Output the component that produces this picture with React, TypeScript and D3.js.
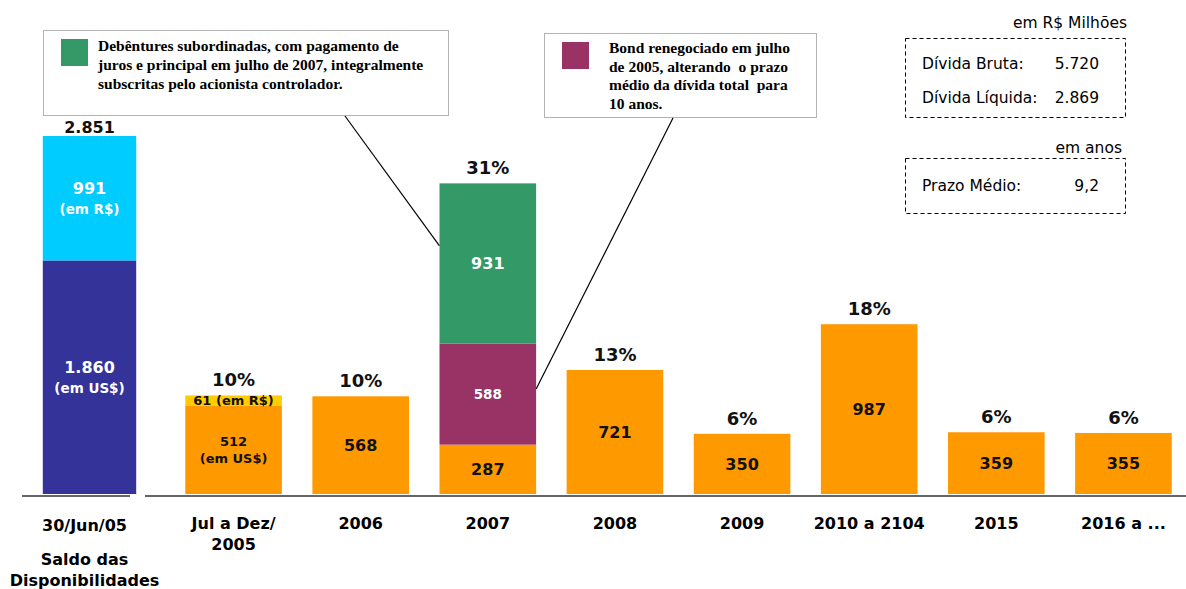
import * as d3 from 'd3'

// periodos de vencimento da divida (R$ milhoes)
const periods = ['Jul a Dez/2005', '2006', '2007', '2008', '2009', '2010 a 2104', '2015', '2016 a ...']
const periodLabels = [['Jul a Dez/', '2005'], ['2006'], ['2007'], ['2008'], ['2009'], ['2010 a 2104'], ['2015'], ['2016 a ...']]
const usdDebt = [512, 568, 287, 721, 350, 987, 359, 355]
const brlDebt = [61, 0, 0, 0, 0, 0, 0, 0]
const bondDebt = [0, 0, 588, 0, 0, 0, 0, 0]
const debentureDebt = [0, 0, 931, 0, 0, 0, 0, 0]
const shareOfDebt = ['10%', '10%', '31%', '13%', '6%', '18%', '6%', '6%']

// saldo das disponibilidades em 30/jun/05
const cashKeys = ['usd', 'brl']
const cashValues = [1860, 991]
const cashLabels = ['30/Jun/05', 'Saldo das', 'Disponibilidades']

const summaryRows = [['Dívida Bruta:', '5.720'], ['Dívida Líquida:', '2.869']]
const termRow = ['Prazo Médio:', '9,2']

const debentureNote = ['Debêntures subordinadas, com pagamento de', 'juros e principal em julho de 2007, integralmente', 'subscritas pelo acionista controlador.']
const bondNote = ['Bond renegociado em julho', 'de 2005, alterando  o prazo', 'médio da dívida total  para', '10 anos.']

const W = 1186
const H = 589
const baseY = 494
const SANS = "'DejaVu Sans', Verdana, sans-serif"
const SERIF = "'Liberation Serif', 'Times New Roman', serif"

const colors: Record<string, string> = {
  usd: '#FF9900',
  brl: '#FFCC00',
  bond: '#993366',
  deb: '#339966',
}
const cashColors: Record<string, string> = { usd: '#333399', brl: '#00CCFF' }

const fmt = d3.formatLocale({ decimal: ',', thousands: '.', grouping: [3], currency: ['R$', ''] }).format(',d')

type Row = { period: string; usd: number; brl: number; bond: number; deb: number }

const App = () => {
  const rows: Row[] = periods.map((p, i) => ({
    period: p,
    usd: usdDebt[i],
    brl: brlDebt[i],
    bond: bondDebt[i],
    deb: debentureDebt[i],
  }))
  const keys = ['usd', 'brl', 'bond', 'deb']
  const series = d3.stack<Row>().keys(keys)(rows)

  const x = d3.scaleBand().domain(periods).range([170, 1187]).paddingInner(0.24).paddingOuter(0.12)
  const xCash = d3.scaleBand().domain(['cash']).range([40, 139]).paddingInner(0).paddingOuter(0.03)
  const yDebt = d3.scaleLinear().domain([0, 2000]).range([baseY, 150])
  const yCash = d3.scaleLinear().domain([0, d3.sum(cashValues)]).range([baseY, 136])

  const cashStack = d3.cumsum(cashValues)
  const cashX = xCash('cash')!
  const cashMid = cashX + xCash.bandwidth() / 2

  const totals = rows.map((r) => r.usd + r.brl + r.bond + r.deb)

  // where the callout leaders meet the 2007 bar
  const x07 = x('2007')!
  const debY = yDebt(usdDebt[2] + bondDebt[2] + debentureDebt[2] * 0.61)
  const bondY = yDebt(usdDebt[2] + bondDebt[2] * 0.55)

  const segLabel = (key: string, i: number, v: number) => {
    if (key === 'usd' && brlDebt[i] > 0) return { lines: [fmt(v), '(em US$)'], size: 13, fill: '#111' }
    if (key === 'brl') return { lines: [`${fmt(v)} (em R$)`], size: 13, fill: '#111' }
    if (key === 'bond') return { lines: [fmt(v)], size: 13.5, fill: '#fff' }
    if (key === 'deb') return { lines: [fmt(v)], size: 16, fill: '#fff' }
    return { lines: [fmt(v)], size: 16, fill: '#111' }
  }

  return (
    <>
      <style>{`body{margin:0}`}</style>
      <svg width={W} height={H} style={{ display: 'block', background: '#fff' }}>
        {/* callout: debentures */}
        <rect x={43.5} y={30.5} width={405} height={85} fill="#fff" stroke="#666" strokeDasharray="1 1" />
        <rect x={61} y={39} width={27} height={27} fill={colors.deb} />
        {debentureNote.map((t, k) => (
          <text key={k} x={98} y={51 + k * 19} fontFamily={SERIF} fontWeight="bold" fontSize={15.5} fill="#000" style={{ whiteSpace: 'pre' }}>
            {t}
          </text>
        ))}
        <line x1={345} y1={116} x2={x07} y2={debY} stroke="#000" strokeWidth={1.2} />

        {/* callout: bond */}
        <rect x={544.5} y={33.5} width={272} height={84} fill="#fff" stroke="#666" strokeDasharray="1 1" />
        <rect x={562} y={42} width={27} height={27} fill={colors.bond} />
        {bondNote.map((t, k) => (
          <text key={k} x={609} y={53 + k * 18.5} fontFamily={SERIF} fontWeight="bold" fontSize={15.5} fill="#000" style={{ whiteSpace: 'pre' }}>
            {t}
          </text>
        ))}
        <line x1={673} y1={118} x2={x07 + x.bandwidth()} y2={bondY} stroke="#000" strokeWidth={1.2} />

        {/* resumo */}
        <text x={1127} y={28} textAnchor="end" fontFamily={SANS} fontSize={15.5} fill="#000">
          em R$ Milhões
        </text>
        <rect x={905.5} y={38.5} width={220} height={79} fill="none" stroke="#000" strokeDasharray="4 3" />
        {summaryRows.map((r, k) => (
          <g key={k} fontFamily={SANS} fontSize={15.5} fill="#000">
            <text x={922} y={69 + k * 34}>{r[0]}</text>
            <text x={1099} y={69 + k * 34} textAnchor="end">{r[1]}</text>
          </g>
        ))}
        <text x={1122} y={153} textAnchor="end" fontFamily={SANS} fontSize={15.5} fill="#000">
          em anos
        </text>
        <rect x={905.5} y={158.5} width={220} height={55} fill="none" stroke="#000" strokeDasharray="4 3" />
        <g fontFamily={SANS} fontSize={15.5} fill="#000">
          <text x={922} y={191}>{termRow[0]}</text>
          <text x={1099} y={191} textAnchor="end">{termRow[1]}</text>
        </g>

        {/* saldo de caixa */}
        {cashValues.map((v, k) => {
          const y0 = yCash(cashStack[k] - v)
          const y1 = yCash(cashStack[k])
          const mid = (y0 + y1) / 2
          return (
            <g key={cashKeys[k]}>
              <rect x={cashX} y={y1} width={xCash.bandwidth()} height={y0 - y1} fill={cashColors[cashKeys[k]]} />
              <text x={cashMid} y={mid - 4} textAnchor="middle" fontFamily={SANS} fontWeight="bold" fontSize={16} fill="#fff">
                {fmt(v)}
              </text>
              <text x={cashMid} y={mid + 16} textAnchor="middle" fontFamily={SANS} fontWeight="bold" fontSize={13.5} fill="#fff">
                {cashKeys[k] === 'usd' ? '(em US$)' : '(em R$)'}
              </text>
            </g>
          )
        })}
        <text x={cashMid} y={yCash(d3.sum(cashValues)) - 3} textAnchor="middle" fontFamily={SANS} fontWeight="bold" fontSize={16} fill="#111">
          {fmt(d3.sum(cashValues))}
        </text>
        {cashLabels.map((t, k) => (
          <text key={t} x={cashMid - 5} y={531 + (k === 0 ? 0 : 13 + k * 21)} textAnchor="middle" fontFamily={SANS} fontWeight="bold" fontSize={16} fill="#000">
            {t}
          </text>
        ))}

        {/* vencimentos */}
        {series.map((s) =>
          s.map((d, i) => {
            const v = d[1] - d[0]
            if (v <= 0) return null
            return (
              <rect
                key={s.key + i}
                x={x(periods[i])!}
                y={yDebt(d[1])}
                width={x.bandwidth()}
                height={yDebt(d[0]) - yDebt(d[1])}
                fill={colors[s.key]}
              />
            )
          })
        )}
        {series.map((s) =>
          s.map((d, i) => {
            const v = d[1] - d[0]
            if (v <= 0) return null
            const lab = segLabel(s.key, i, v)
            const mid = (yDebt(d[0]) + yDebt(d[1])) / 2
            const cx = x(periods[i])! + x.bandwidth() / 2
            const lh = lab.size * 1.3
            const top = mid - ((lab.lines.length - 1) * lh) / 2 + lab.size * 0.36
            return lab.lines.map((t, k) => (
              <text
                key={s.key + i + k}
                x={cx}
                y={top + k * lh}
                textAnchor="middle"
                fontFamily={SANS}
                fontWeight="bold"
                fontSize={lab.size}
                fill={lab.fill}
              >
                {t}
              </text>
            ))
          })
        )}
        {shareOfDebt.map((t, i) => (
          <text
            key={'p' + i}
            x={x(periods[i])! + x.bandwidth() / 2}
            y={yDebt(totals[i]) - 9}
            textAnchor="middle"
            fontFamily={SANS}
            fontWeight="bold"
            fontSize={18}
            fill="#111"
          >
            {t}
          </text>
        ))}
        {periodLabels.map((lines, i) =>
          lines.map((t, k) => (
            <text
              key={'l' + i + k}
              x={x(periods[i])! + x.bandwidth() / 2}
              y={529 + k * 21}
              textAnchor="middle"
              fontFamily={SANS}
              fontWeight="bold"
              fontSize={16}
              fill="#000"
            >
              {t}
            </text>
          ))
        )}

        {/* linhas de base */}
        <line x1={22} x2={130} y1={baseY + 2} y2={baseY + 2} stroke="#333" strokeWidth={1.6} />
        <line x1={145} x2={W} y1={baseY + 2} y2={baseY + 2} stroke="#333" strokeWidth={1.6} />
      </svg>
    </>
  )
}

export default App
